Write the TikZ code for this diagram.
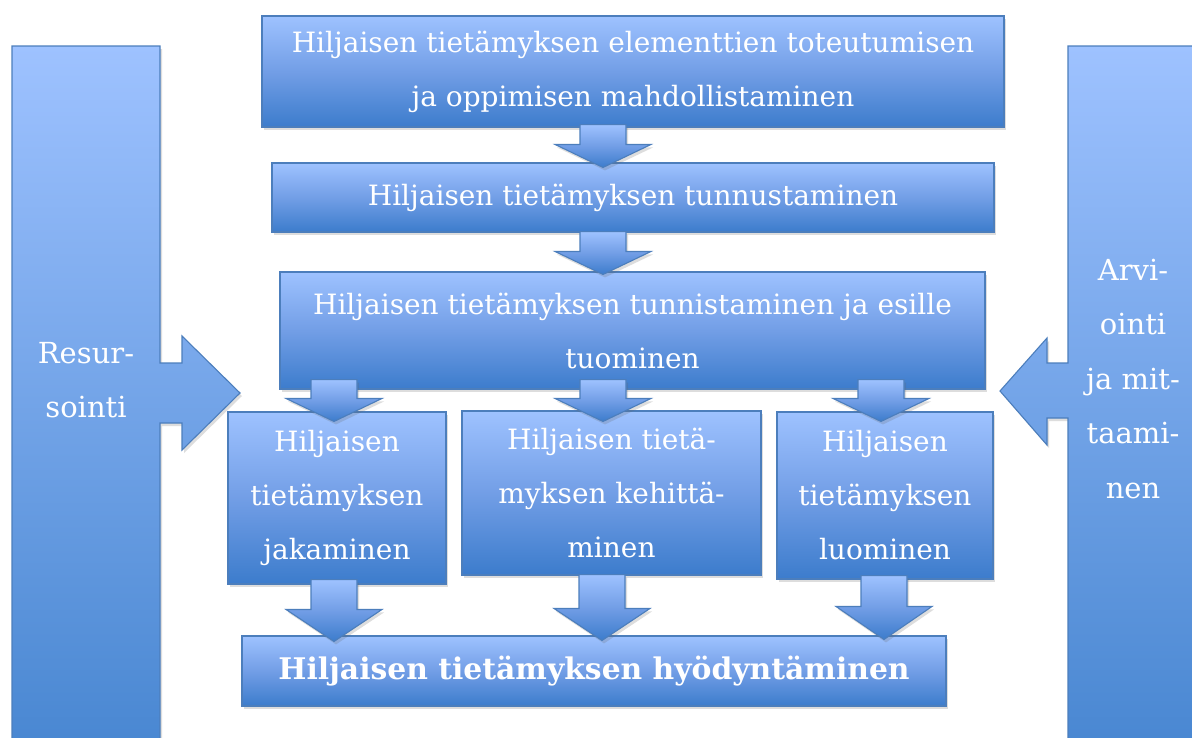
\documentclass[tikz,border=0pt]{standalone}
\usepackage{fontspec}
\setmainfont{DejaVu Serif}
\usetikzlibrary{calc,shadows}

\definecolor{boxtop}{RGB}{158,194,255}
\definecolor{boxmid}{RGB}{114,158,230}
\definecolor{boxbot}{RGB}{60,124,204}
\definecolor{sidebot}{RGB}{70,133,208}
\definecolor{boxline}{RGB}{76,126,188}

\tikzset{
  softshadow/.style={drop shadow={opacity=0.22, fill=black!60, shadow xshift=2pt, shadow yshift=-3pt}},
  blockbox/.style={draw=boxline, line width=1.1pt, top color=boxtop, bottom color=boxbot,
    middle color=boxmid, softshadow, text=white, align=center, inner sep=0pt,
    font=\fontsize{28}{54}\selectfont},
  arrowshape/.style={draw=boxline, line width=1.1pt, top color=boxtop, bottom color=boxbot,
    middle color=boxmid, softshadow, line join=miter},
  sideshape/.style={draw=boxline, line width=1.1pt, top color=boxtop, bottom color=sidebot, softshadow},
  sidetext/.style={text=white, align=center, inner sep=0pt, font=\fontsize{29}{54.5}\selectfont},
}

% block arrow pointing down: centre column, source node, target node,
% overlap into the source, head length, overlap into the target
\newcommand\blockdown[6]{%
  \path[arrowshape]
    ($(#1 |- #2.south)+(-23,-#4)$) -- ($(#1 |- #2.south)+(23,-#4)$)
    -- ($(#1 |- #3.north)+(23,#6-#5)$) -- ($(#1 |- #3.north)+(48,#6-#5)$)
    -- ($(#1 |- #3.north)+(0,#6)$) -- ($(#1 |- #3.north)+(-48,#6-#5)$)
    -- ($(#1 |- #3.north)+(-23,#6-#5)$) -- cycle;}

\begin{document}
\begin{tikzpicture}[x=1pt,y=-1pt]
  \clip (0,0) rectangle (1192,737);
  \fill[white] (0,0) rectangle (1192,737);

  % side columns with their block arrows
  \path[sideshape] (12,46) -- (160,46) -- (160,363) -- (182,363) -- (182,336)
    -- (240,393) -- (182,450) -- (182,423) -- (160,423) -- (160,770) -- (12,770) -- cycle;
  \node[sidetext] (res) at (86,380) {Resur-\\sointi};

  \path[sideshape] (1068,46) -- (1210,46) -- (1210,770) -- (1068,770) -- (1068,418)
    -- (1047,418) -- (1047,445) -- (1000,391) -- (1047,338) -- (1047,363) -- (1068,363) -- cycle;
  \node[sidetext] (arv) at (1133,379) {Arvi-\\ointi\\ja mit-\\taami-\\nen};

  % process boxes
  \node[blockbox, minimum width=742, minimum height=111] (b1) at (633,71.5)
    {Hiljaisen tietämyksen elementtien toteutumisen\\ja oppimisen mahdollistaminen};
  \node[blockbox, minimum width=722, minimum height=69] (b2) at (633,197.5)
    {Hiljaisen tietämyksen tunnustaminen};
  \node[blockbox, minimum width=705, minimum height=117] (b3) at (632.5,330.5)
    {Hiljaisen tietämyksen tunnistaminen ja esille\\tuominen};
  \node[blockbox, minimum width=218, minimum height=172] (ba) at (337,498)
    {Hiljaisen\\tietämyksen\\jakaminen};
  \node[blockbox, minimum width=299, minimum height=164] (bb) at (611.5,493)
    {Hiljaisen tietä-\\myksen kehittä-\\minen};
  \node[blockbox, minimum width=216, minimum height=167] (bc) at (885,495.5)
    {Hiljaisen\\tietämyksen\\luominen};
  \node[blockbox, minimum width=704, minimum height=70, font=\fontsize{29.8}{54}\selectfont\bfseries] (b4) at (594,671)
    {Hiljaisen tietämyksen hyödyntäminen};

  % arrow columns
  \coordinate (c1) at (603,0);
  \coordinate (ca) at (334,0);
  \coordinate (cb) at (603,0);
  \coordinate (cc) at (881,0);
  \coordinate (cal) at (334,0);
  \coordinate (cbl) at (602,0);
  \coordinate (ccl) at (884,0);

  \blockdown{c1}{b1}{b2}{3}{23}{5}
  \blockdown{c1}{b2}{b3}{1}{23}{3}
  \blockdown{ca}{b3}{ba}{10}{23}{10}
  \blockdown{cb}{b3}{bb}{10}{23}{11}
  \blockdown{cc}{b3}{bc}{10}{23}{10}
  \blockdown{cal}{ba}{b4}{5}{32}{6}
  \blockdown{cbl}{bb}{b4}{1}{32}{5}
  \blockdown{ccl}{bc}{b4}{4}{33}{4}
\end{tikzpicture}
\end{document}
